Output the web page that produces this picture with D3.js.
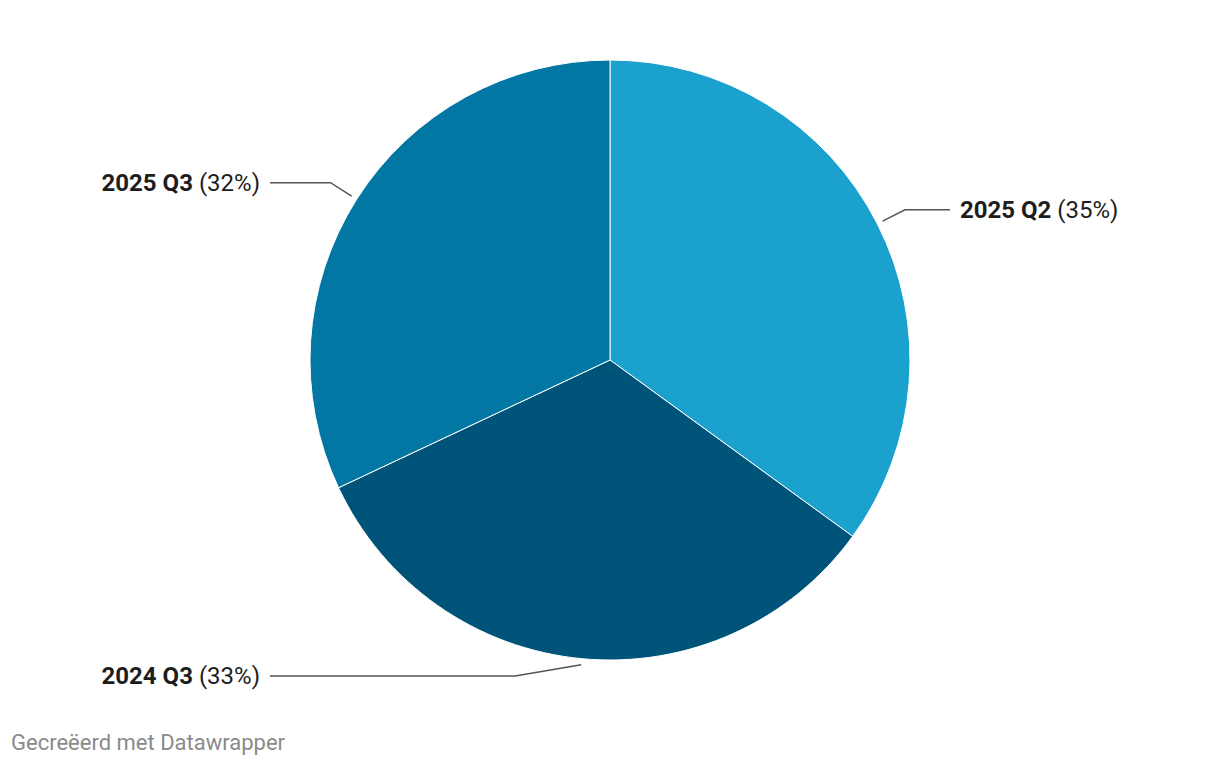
<!DOCTYPE html>
<html lang="nl">
<head>
    <meta charset="utf-8">
    <title>Pie chart</title>
    <script type="text/javascript" src="https://d3js.org/d3.v7.min.js"></script>
    <style type="text/css">
        body { margin: 0; background: #fff; font-family: Roboto, sans-serif; }
    </style>
</head>
<body>
    <script type="text/javascript">

        const labels = ["2025 Q2", "2024 Q3", "2025 Q3"];
        const values = [35, 33, 32];
        const colors = ["#1ba1cd", "#005379", "#0377a3"];

        const width = 1220;
        const height = 766;
        const cx = 610, cy = 360;
        const radius = 300;

        const data = labels.map((l, i) => ({ label: l, value: values[i], color: colors[i] }));

        const svg = d3.select("body")
                    .append("svg")
                    .attr("width", width)
                    .attr("height", height);

        const pie = d3.pie().sort(null).value(d => d.value);
        const arc = d3.arc().innerRadius(0).outerRadius(radius);

        const g = svg.append("g").attr("transform", `translate(${cx},${cy})`);

        const arcs = pie(data);

        // Slices
        g.selectAll("path")
            .data(arcs)
            .enter()
            .append("path")
            .attr("d", arc)
            .attr("fill", d => d.data.color)
            .attr("stroke", "#fff")
            .attr("stroke-width", 1);

        // Labels with leader lines
        const lineStart = d3.arc().innerRadius(radius + 6).outerRadius(radius + 6);
        const lineElbow = d3.arc().innerRadius(radius + 31).outerRadius(radius + 31);
        const maxY = 316;

        arcs.forEach(d => {
            const mid = (d.startAngle + d.endAngle) / 2;
            const right = Math.sin(mid) > 0;
            const side = right ? 1 : -1;
            const p0 = lineStart.centroid(d);
            let p1 = lineElbow.centroid(d);
            if (Math.abs(p1[1]) > maxY) {
                const y = Math.sign(p1[1]) * maxY;
                p1 = [p0[0] + side * 66, y];
            }
            const endX = side * 340;
            g.append("polyline")
                .attr("points", [p0, p1, [endX, p1[1]]].map(p => p.join(",")).join(" "))
                .attr("fill", "none")
                .attr("stroke", "#555")
                .attr("stroke-width", 1.5);

            const t = g.append("text")
                .attr("x", side * 350)
                .attr("y", p1[1])
                .attr("dy", "0.35em")
                .attr("text-anchor", right ? "start" : "end")
                .style("font-size", "24px")
                .attr("fill", "#1d1d1d");
            t.append("tspan").attr("font-weight", "bold").text(d.data.label);
            t.append("tspan").text(` (${d.data.value}%)`);
        });

        svg.append("text")
            .attr("x", 11)
            .attr("y", 750)
            .style("font-size", "22px")
            .attr("fill", "#8a8a8a")
            .text("Gecreëerd met Datawrapper");
    </script>
</body>
</html>
